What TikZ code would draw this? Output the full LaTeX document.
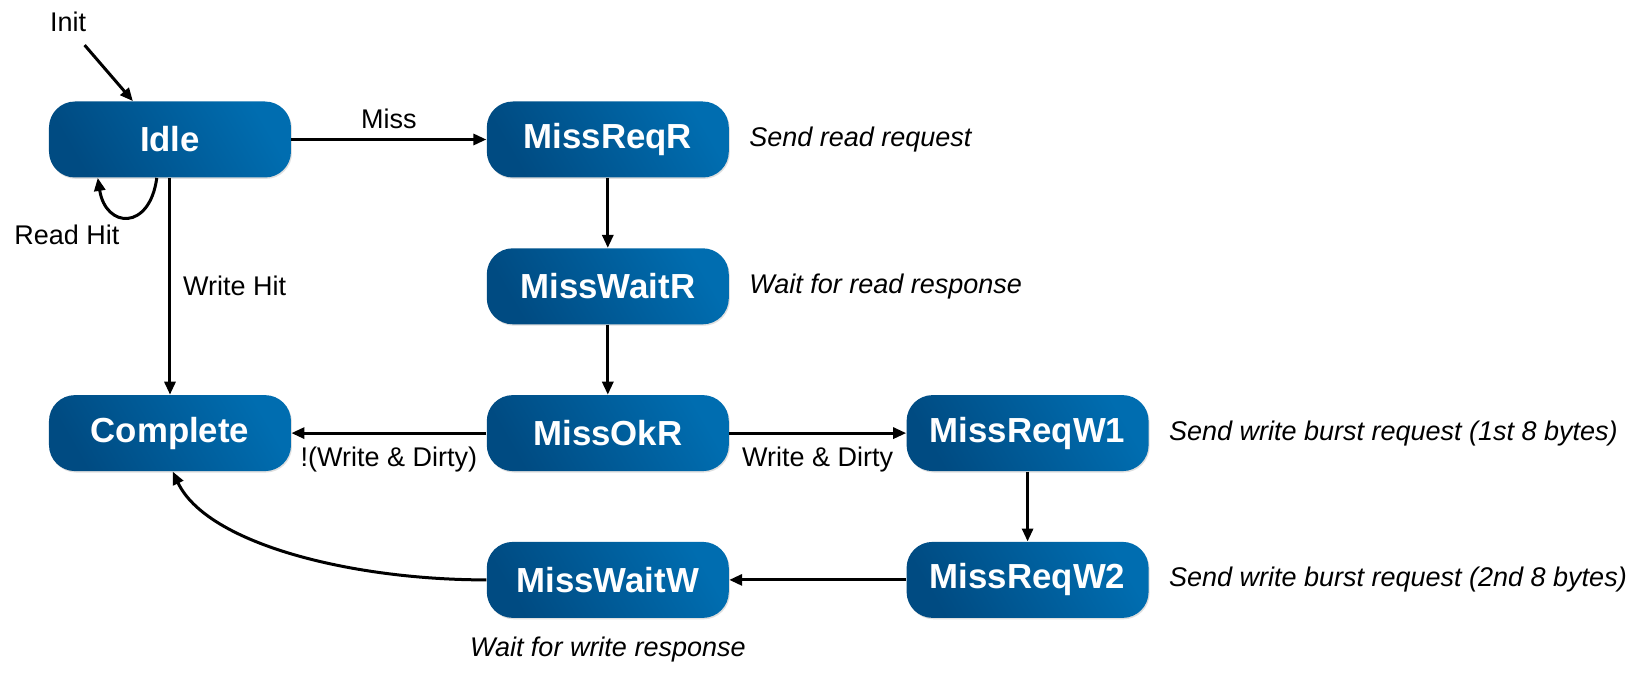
\documentclass[tikz,border=0pt]{standalone}
\usepackage{fontspec}
\setmainfont{Liberation Sans}
\usepackage{tikz}
\usetikzlibrary{arrows.meta, positioning, calc, shadows}

\definecolor{statelight}{HTML}{006DB0}
\definecolor{statedark}{HTML}{004B82}

\begin{document}
\begin{tikzpicture}[
  node distance=35pt and 97.5pt,
  every node/.style={font=\fontsize{13.5}{16}\selectfont},
  statebox/.style={rounded corners=13pt, minimum width=121pt, minimum height=38pt, inner sep=0pt,
    top color=statelight, bottom color=statedark, shading angle=-60,
    drop shadow={shadow xshift=0.5pt, shadow yshift=-0.7pt, opacity=0.25},
    text=white, font=\fontsize{17.4}{20}\selectfont\bfseries},
  arrow/.style={-{Triangle[length=6.5pt, width=5.5pt]}, line width=1.5pt, black},
  cond/.style={font=\fontsize{13.5}{16}\selectfont},
  note/.style={font=\fontsize{13.5}{16}\selectfont\itshape},
]

\path[use as bounding box, fill=white] (-85pt,69.75pt) rectangle (740pt,-270.25pt);

% States
\node[statebox] (idle) {Idle};
\node[statebox, right=of idle] (missreqr) {MissReqR};
\node[statebox, below=of missreqr] (misswaitr) {MissWaitR};
\node[statebox, below=of misswaitr] (missokr) {MissOkR};
\node[statebox, left=of missokr] (complete) {Complete};
\node[statebox, right=88.5pt of missokr] (missreqw1) {MissReqW1};
\node[statebox, below=of missreqw1] (missreqw2) {MissReqW2};
\node[statebox, below=of missokr] (misswaitw) {MissWaitW};

% Notes beside the states
\node[note, right=6.5pt of missreqr] (notereqr) {Send read request};
\node[note, right=6.5pt of misswaitr] (notewaitr) {Wait for read response};
\node[note, right=6.5pt of missreqw1] (notereqw1) {Send write burst request (1st 8 bytes)};
\node[note, right=6.5pt of missreqw2] (notereqw2) {Send write burst request (2nd 8 bytes)};
\node[note, below=6pt of misswaitw] (notewaitw) {Wait for write response};

% Initial transition
\node[cond, anchor=base] (init) at ($(idle.north west)+(9.75pt,35pt)$) {Init};
\coordinate (initfrom) at ($(idle.north west)+(18pt,28pt)$);
\draw[arrow] (initfrom) -- (idle.134);

% Transitions
\draw[arrow] (idle.-109) .. controls +(-3.5pt,-26.5pt) and +(4pt,-25.5pt) .. (idle.-152)
  node[cond, midway, anchor=north east] {Read Hit};
\draw[arrow] (idle) -- node[cond, right=2.5pt] {Write Hit} (complete);
\draw[arrow] (idle) -- node[cond, above=1.5pt] {Miss} (missreqr);
\draw[arrow] (missreqr) -- (misswaitr);
\draw[arrow] (misswaitr) -- (missokr);
\draw[arrow] (missokr) -- node[cond, below=3pt] {!(Write \& Dirty)} (complete);
\draw[arrow] (missokr) -- node[cond, below=3pt] {Write \& Dirty} (missreqw1);
\draw[arrow] (missreqw1) -- (missreqw2);
\draw[arrow] (missreqw2) -- (misswaitw);
\draw[arrow] (misswaitw.west) .. controls +(-68pt,0pt) and +(17pt,-36pt) .. (complete.-86);

\end{tikzpicture}
\end{document}
